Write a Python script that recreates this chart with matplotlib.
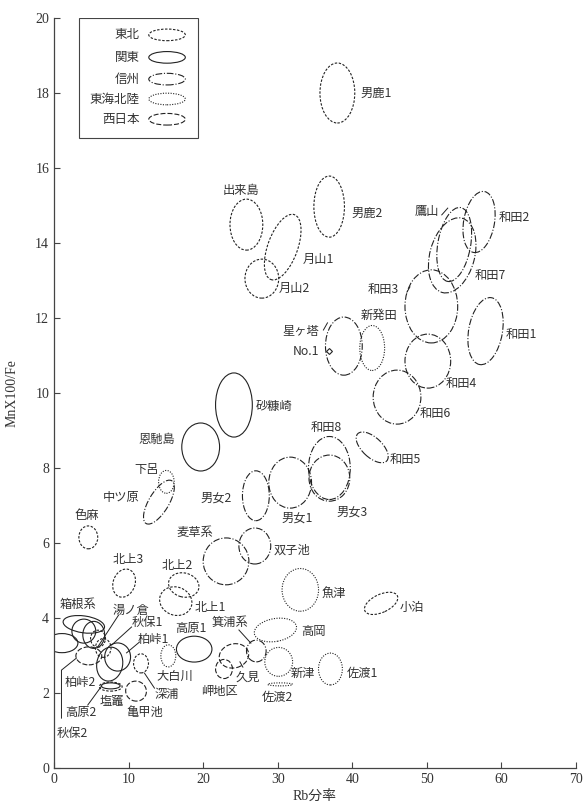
import numpy as np
import matplotlib.pyplot as plt
from matplotlib.patches import Ellipse, Rectangle
from matplotlib.transforms import Affine2D

jp = ['Noto Sans CJK JP', 'DejaVu Sans']
serif = ['Liberation Serif', 'Noto Sans CJK JP']

# region legend
regions = ['東北', '関東', '信州', '東海北陸', '西日本']
region_ls = {'東北': (0, (2.2, 1.4)),
             '関東': '-',
             '信州': (0, (6, 1.6, 1, 1.6)),
             '東海北陸': (0, (1, 1.3)),
             '西日本': (0, (4.5, 1.8))}

# ellipses: name, region, centre (Rb, Mn), width (Rb units), height (Mn units), angle
names = ['男鹿1', '男鹿2', '出来島', '月山1', '月山2', '鷹山', '和田7', '和田2',
         '和田3', '和田1', '和田4', '和田6', '和田5', '新発田', '星ヶ塔', '砂糠崎',
         '恩馳島', '和田8', '男女3', '男女1', '男女2', '双子池', '麦草系', '下呂',
         '中ツ原', '色麻', '北上3', '北上2', '北上1', '魚津', '小泊', '高岡',
         '箕浦系', '久見', '岬地区', '新津', '佐渡2', '佐渡1', '高原1', '大白川',
         '深浦', '亀甲池', '高原2', '塩竈', '箱根系', '箱根系b', '箱根系c', '秋保2',
         '柏峠1', '柏峠1b', '柏峠2', '秋保1', '湯ノ倉']
region = ['東北', '東北', '東北', '東北', '東北', '信州', '信州', '信州',
          '信州', '信州', '信州', '信州', '信州', '東海北陸', '信州', '関東',
          '関東', '信州', '信州', '信州', '信州', '信州', '信州', '東海北陸',
          '信州', '東北', '東北', '東北', '東北', '東海北陸', '東北', '東海北陸',
          '信州', '西日本', '西日本', '東海北陸', '東海北陸', '東海北陸', '関東', '東海北陸',
          '東北', '西日本', '関東', '東北', '関東', '関東', '関東', '関東',
          '関東', '関東', '西日本', '東北', '東北']
cx = [38.0, 36.9, 25.8, 30.67, 27.87, 53.67, 53.4, 57.0,
      50.6, 57.87, 50.13, 46.0, 42.67, 42.67, 38.87, 24.13,
      19.67, 36.93, 36.93, 31.67, 27.07, 26.93, 23.07, 15.07,
      14.07, 4.6, 9.4, 17.4, 16.33, 33.03, 43.87, 29.69,
      27.13, 24.13, 22.8, 30.13, 30.33, 37.07, 18.8, 15.33,
      11.67, 11.0, 7.6, 7.6, 4.0, 4.0, 5.33, 1.07,
      7.47, 8.53, 4.67, 6.6, 5.9]
cy = [18.0, 14.97, 14.49, 13.89, 13.05, 13.96, 13.67, 14.56,
      12.31, 11.65, 10.85, 9.89, 8.55, 11.2, 11.25, 9.68,
      8.56, 8.0, 7.73, 7.61, 7.26, 5.92, 5.51, 7.63,
      7.09, 6.15, 4.93, 4.88, 4.45, 4.75, 4.39, 3.68,
      3.12, 2.99, 2.64, 2.83, 2.23, 2.64, 3.17, 2.99,
      2.79, 2.05, 2.19, 2.17, 3.83, 3.65, 3.55, 3.33,
      2.77, 2.96, 2.99, 3.2, 3.45]
ew = [4.67, 4.1, 4.4, 4.0, 4.53, 4.4, 6.0, 4.13,
      7.07, 4.53, 6.13, 6.4, 5.33, 3.33, 4.93, 4.93,
      5.07, 5.6, 5.47, 5.73, 3.6, 4.27, 6.13, 2.09,
      2.67, 2.53, 2.93, 4.13, 4.4, 4.89, 4.8, 5.73,
      2.63, 4.0, 2.27, 3.73, 3.33, 3.2, 4.76, 2.0,
      2.0, 2.8, 2.53, 3.07, 5.6, 3.2, 2.93, 4.27,
      3.47, 3.47, 3.47, 2.1, 2.0]
eh = [1.6, 1.63, 1.36, 1.84, 1.04, 2.0, 2.05, 1.65,
      1.95, 1.81, 1.44, 1.44, 0.53, 1.2, 1.55, 1.71,
      1.28, 1.68, 1.23, 1.36, 1.33, 0.96, 1.25, 0.61,
      1.33, 0.61, 0.77, 0.64, 0.75, 1.14, 0.48, 0.61,
      0.58, 0.64, 0.51, 0.77, 0.08, 0.85, 0.69, 0.59,
      0.51, 0.53, 0.16, 0.24, 0.45, 0.64, 0.72, 0.51,
      0.91, 0.75, 0.48, 0.5, 0.45]
angle = [0, 0, 0, -20, 0, -10, -15, -10,
         0, -10, 0, 0, -43, 0, 0, 0,
         0, 0, 0, 0, 0, 0, 0, 0,
         -31, 0, -20, -15, -20, 0, 25, 10,
         0, 15, 0, 0, 0, 0, 0, 0,
         0, -20, 0, 0, -8, 0, 0, 0,
         -10, 0, 0, 0, 0]

# text labels (Rb, Mn of left edge / middle)
lab_text = ['男鹿1', '男鹿2', '出来島', '月山1', '月山2', '鷹山', '和田2', '和田7',
            '和田3', '新発田', '和田1', '和田4', '和田6', '和田5', '星ヶ塔', 'No.1',
            '砂糠崎', '恩馳島', '和田8', '男女3', '男女1', '男女2', '双子池', '麦草系',
            '下呂', '中ツ原', '色麻', '北上3', '北上2', '北上1', '箱根系', '湯ノ倉',
            '秋保1', '柏峠1', '高原1', '箕浦系', '高岡', '魚津', '小泊', '大白川',
            '久見', '新津', '佐渡1', '岬地区', '佐渡2', '深浦', '柏峠2', '塩竈',
            '高原2', '亀甲池', '秋保2']
lab_x = [41.07, 39.87, 22.6, 33.33, 30.13, 48.3, 59.6, 56.4,
         42.0, 41.07, 60.53, 52.53, 49.07, 45.07, 30.6, 32.0,
         27.07, 11.3, 34.4, 37.87, 30.53, 19.7, 29.47, 16.4,
         10.8, 6.5, 2.7, 7.87, 14.4, 18.8, 0.7, 7.87,
         10.4, 11.2, 16.3, 21.2, 33.2, 35.87, 46.4, 13.8,
         24.4, 31.73, 39.2, 19.7, 27.8, 13.47, 1.4, 6.13,
         1.5, 9.7, 0.3]
lab_y = [18.0, 14.8, 15.41, 13.57, 12.8, 14.83, 14.67, 13.12,
         12.77, 12.08, 11.55, 10.24, 9.44, 8.24, 11.65, 11.12,
         9.65, 8.77, 9.07, 6.83, 6.67, 7.2, 5.81, 6.27,
         7.95, 7.2, 6.72, 5.57, 5.41, 4.29, 4.37, 4.21,
         3.87, 3.44, 3.73, 3.87, 3.65, 4.67, 4.27, 2.43,
         2.43, 2.51, 2.51, 2.05, 1.89, 1.97, 2.29, 1.76,
         1.49, 1.49, 0.93]

# leader lines
leaders = [([52.0, 52.8], [14.75, 14.93]),
           ([8.67, 5.87], [4.08, 3.23]),
           ([10.4, 7.73], [3.76, 3.28]),
           ([11.47, 9.73], [3.36, 3.07]),
           ([24.8, 26.4], [3.68, 3.33]),
           ([25.33, 24.93], [2.69, 2.83]),
           ([13.47, 12.13], [2.13, 2.53]),
           ([4.53, 6.4], [1.68, 2.19]),
           ([1.0, 1.0, 3.0], [1.33, 2.61, 2.93]),
           ([36.13, 36.67], [11.68, 11.87]),
           ([47.33, 47.73], [12.69, 12.83])]
no1_pt = (36.93, 11.13)

W, H = 584, 807
fig = plt.figure(figsize=(W / 100, H / 100), dpi=100)
ax = fig.add_axes([54 / W, 39 / H, 522 / W, 750 / H])
ax.set_xlim(0, 70)
ax.set_ylim(0, 20)
ax.spines['top'].set_visible(False)
ax.spines['right'].set_visible(False)
for s in ['left', 'bottom']:
    ax.spines[s].set_color('#444')
    ax.spines[s].set_linewidth(0.9)
ax.set_xticks(np.arange(0, 71, 10))
ax.set_yticks(np.arange(0, 21, 2))
ax.tick_params(direction='in', length=4, color='#444', labelsize=10, labelcolor='#333')
for t in ax.get_xticklabels() + ax.get_yticklabels():
    t.set_family(serif)
ax.set_xlabel('Rb分率', family=serif, fontsize=10, color='#333', labelpad=3)
ax.set_ylabel('MnX100/Fe', family=serif, fontsize=10, color='#333', labelpad=12)

# isotropic transform so rotated ellipses are not sheared
pos = ax.get_position()
k = (pos.width * W / 70) / (pos.height * H / 20)
iso = Affine2D().scale(1 / k, 1) + ax.transData

lc = '#222'
for i in range(len(names)):
    e = Ellipse((cx[i] * k, cy[i]), ew[i] * k, eh[i], angle=angle[i],
                transform=iso, fill=False, ec=lc, lw=0.8,
                ls=region_ls[region[i]])
    ax.add_patch(e)

for t, x, y in zip(lab_text, lab_x, lab_y):
    ax.text(x, y, t, family=jp, fontsize=8.8, color='#333', ha='left', va='center')

for xs, ys in leaders:
    ax.plot(xs, ys, color=lc, lw=0.7)
ax.plot(*no1_pt, marker='D', ms=3, mfc='white', mec=lc, mew=0.8)

# legend box
ax.add_patch(Rectangle((3.33, 16.8), 16.0, 3.2, fill=False, ec='#444', lw=0.8))
leg_y = [19.55, 18.95, 18.37, 17.84, 17.3]
for r, y in zip(regions, leg_y):
    ax.text(11.5, y, r, family=jp, fontsize=9, color='#333', ha='right', va='center')
    ax.add_patch(Ellipse((15.16 * k, y), 4.9 * k, 0.31, transform=iso, fill=False,
                         ec=lc, lw=0.8, ls=region_ls[r]))

fig.savefig('out.png', dpi=100)
